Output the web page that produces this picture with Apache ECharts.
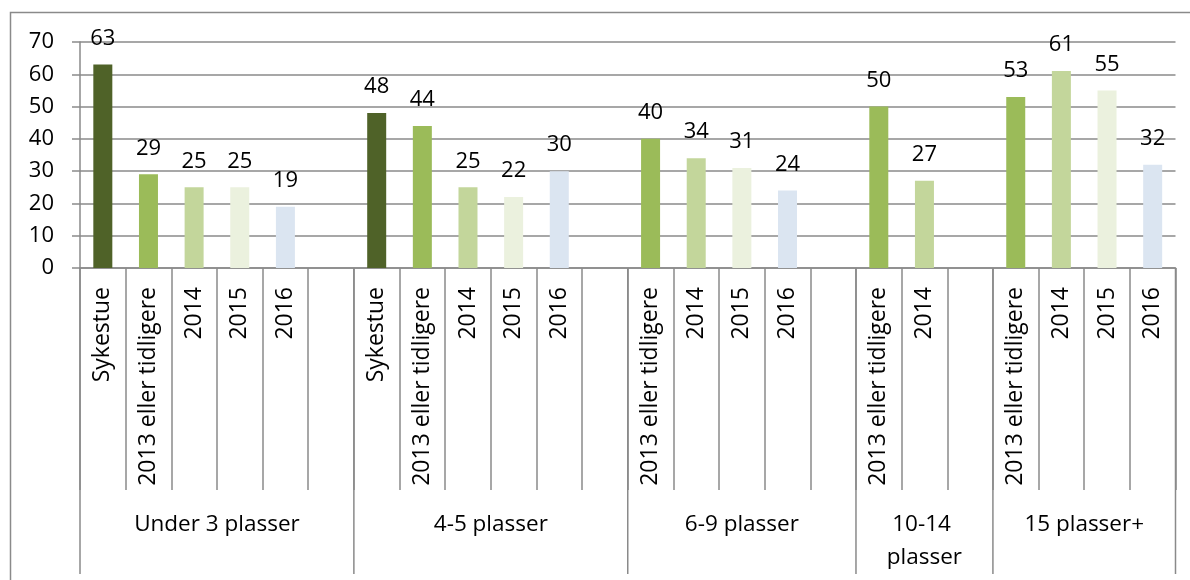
<!DOCTYPE html>
<html>
<head>
<meta charset="utf-8">
<script src="https://cdn.jsdelivr.net/npm/echarts@6/dist/echarts.min.js"></script>
<style>
  html, body { margin: 0; padding: 0; background: #fff; }
  #chart { width: 1190px; height: 580px; }
</style>
</head>
<body>
<div id="chart"></div>
<script>
// Category slots along the x axis ('' marks an empty spacer slot)
const categories = [
  'Sykestue', '2013 eller tidligere', '2014', '2015', '2016', '',
  'Sykestue', '2013 eller tidligere', '2014', '2015', '2016', '',
  '2013 eller tidligere', '2014', '2015', '2016', '',
  '2013 eller tidligere', '2014', '',
  '2013 eller tidligere', '2014', '2015', '2016'
];
// Bar values, one per slot
const values = [
  63, 29, 25, 25, 19, null,
  48, 44, 25, 22, 30, null,
  40, 34, 31, 24, null,
  50, 27, null,
  53, 61, 55, 32
];
// Outer category groups and how many slots each covers
const groupNames = ['Under 3 plasser', '4-5 plasser', '6-9 plasser', '10-14 plasser', '15 plasser+'];
const groupSizes = [6, 6, 5, 3, 4];
// Y axis ticks
const yTicks = { min: 0, max: 70, interval: 10 };

const colorByCategory = {
  'Sykestue': '#4f6228',
  '2013 eller tidligere': '#9bbb59',
  '2014': '#c3d69b',
  '2015': '#ebf1de',
  '2016': '#dbe5f1'
};

const FONT = '"Open Sans", "Liberation Sans", sans-serif';
const GRAY = '#8a8a8a';
const LW = 1.5;

const barData = values.map((v, i) => ({
  value: v,
  itemStyle: { color: colorByCategory[categories[i]] || '#ffffff' }
}));

// group spans as [firstIndex, lastIndex, 0]
const groupData = [];
let start = 0;
groupSizes.forEach((n) => {
  groupData.push([start, start + n - 1, 0]);
  start += n;
});

const chart = echarts.init(document.getElementById('chart'), null, { renderer: 'canvas' });

chart.setOption({
  animation: false,
  backgroundColor: '#ffffff',
  textStyle: { fontFamily: FONT },
  grid: { left: 80, right: 14.5, top: 42, bottom: 312, containLabel: false },
  graphic: [{
    type: 'rect',
    shape: { x: 10.5, y: 12.5, width: 1200, height: 600 },
    style: { fill: 'none', stroke: GRAY, lineWidth: LW },
    silent: true
  }],
  xAxis: {
    type: 'category',
    data: categories,
    boundaryGap: true,
    axisLine: { show: true, lineStyle: { color: GRAY, width: LW } },
    axisTick: { show: true, interval: 0, length: 222, lineStyle: { color: GRAY, width: LW } },
    axisLabel: {
      interval: 0,
      rotate: 90,
      margin: 19,
      color: '#000',
      fontFamily: FONT,
      fontSize: 23
    },
    splitLine: { show: false }
  },
  yAxis: {
    type: 'value',
    min: yTicks.min,
    max: yTicks.max,
    interval: yTicks.interval,
    axisLine: { show: true, lineStyle: { color: GRAY, width: LW } },
    axisTick: { show: true, length: 8, lineStyle: { color: GRAY, width: LW } },
    axisLabel: { margin: 26, color: '#000', fontFamily: FONT, fontSize: 22 },
    splitLine: { show: true, lineStyle: { color: GRAY, width: LW } }
  },
  series: [
    {
      type: 'bar',
      data: barData,
      barWidth: 19,
      label: {
        show: true,
        position: 'top',
        distance: 15,
        color: '#000',
        fontFamily: FONT,
        fontSize: 22,
        formatter: (p) => (p.value == null ? '' : String(p.value))
      }
    },
    {
      // outer group separators and group names under the axis
      type: 'custom',
      clip: false,
      silent: true,
      data: groupData,
      encode: { x: [0, 1], y: 2 },
      renderItem: (params, api) => {
        const s = api.value(0);
        const e = api.value(1);
        const band = api.size([1, 0])[0];
        const p0 = api.coord([s, 0]);
        const p1 = api.coord([e, 0]);
        const x0 = p0[0] - band / 2;
        const x1 = p1[0] + band / 2;
        const y0 = p0[1];
        const children = [
          {
            type: 'line',
            shape: { x1: x0, y1: y0, x2: x0, y2: y0 + 306 },
            style: { stroke: GRAY, lineWidth: LW }
          },
          {
            type: 'text',
            style: {
              text: groupNames[params.dataIndex],
              x: (x0 + x1) / 2,
              y: y0 + 240,
              align: 'center',
              verticalAlign: 'top',
              width: x1 - x0 - 12,
              overflow: 'break',
              lineHeight: 33,
              fill: '#000',
              font: '22.5px ' + FONT
            }
          }
        ];
        if (params.dataIndex === groupData.length - 1) {
          children.push({
            type: 'line',
            shape: { x1: x1, y1: y0, x2: x1, y2: y0 + 306 },
            style: { stroke: GRAY, lineWidth: LW }
          });
        }
        return { type: 'group', children };
      }
    }
  ]
});
</script>
</body>
</html>
